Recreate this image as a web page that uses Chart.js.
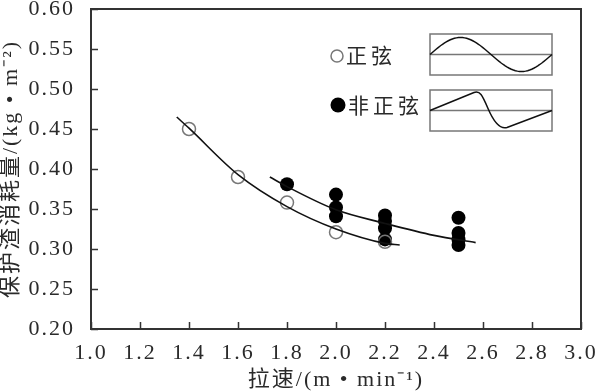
<!DOCTYPE html>
<html>
<head>
<meta charset="utf-8">
<script src="https://cdn.jsdelivr.net/npm/chart.js@4"></script>
<style>
  html, body { margin: 0; padding: 0; background: #fff; }
  #wrap { width: 598px; height: 391px; }
</style>
</head>
<body>
<div id="wrap"><canvas id="slagChart" width="598" height="391"></canvas></div>
<script>
// 正弦振动：实测点
const sineSpeed = [1.4, 1.6, 1.8, 2.0, 2.2];
const sineUse = [0.450, 0.390, 0.358, 0.321, 0.309];

// 非正弦振动：实测点
const nonSineSpeed = [1.8, 2.0, 2.0, 2.0, 2.2, 2.2, 2.2, 2.2, 2.5, 2.5, 2.5, 2.5];
const nonSineUse = [0.381, 0.368, 0.352, 0.341, 0.342, 0.335, 0.326, 0.312, 0.339, 0.320, 0.312, 0.305];

// 拟合曲线
const sineFitSpeed = [1.35, 1.4, 1.6, 1.8, 2.0, 2.2, 2.26];
const sineFitUse = [0.465, 0.451, 0.393, 0.353, 0.325, 0.307, 0.305];
const nonSineFitSpeed = [1.73, 1.8, 2.0, 2.2, 2.4, 2.57];
const nonSineFitUse = [0.390, 0.378, 0.349, 0.332, 0.317, 0.308];

// 坐标轴
const xMin = 1.0, xMax = 3.0, xStep = 0.2;
const yMin = 0.20, yMax = 0.60, yStep = 0.05;
const xTitle = '拉速/(m • min⁻¹)';
const yTitle = '保护渣消耗量/(kg • m⁻²)';

const numFont = "'Liberation Serif', 'Noto Sans CJK SC', serif";
const frameColor = '#333';
const textColor = '#2a2a2a';

function toPoints(xs, ys) {
    return xs.map((x, i) => ({ x: x, y: ys[i] }));
}

// 字间距（原图文字较疏）
const spacingPlugin = {
    id: 'spacing',
    beforeLayout(chart) { chart.ctx.letterSpacing = '2px'; },
    beforeDraw(chart) { chart.ctx.letterSpacing = '2px'; }
};

// 边框和向内的刻度
const framePlugin = {
    id: 'frame',
    afterDraw(chart) {
        const ctx = chart.ctx;
        const a = chart.chartArea;
        const xs = chart.scales.x;
        const ys = chart.scales.y;
        ctx.save();
        ctx.strokeStyle = frameColor;
        ctx.lineWidth = 2;
        ctx.strokeRect(a.left, a.top, a.right - a.left, a.bottom - a.top);
        ctx.lineWidth = 1.5;
        ctx.beginPath();
        xs.ticks.forEach(t => {
            const px = Math.round(xs.getPixelForValue(t.value)) + 0.5;
            ctx.moveTo(px, a.bottom);
            ctx.lineTo(px, a.bottom - 7);
        });
        ys.ticks.forEach(t => {
            const py = Math.round(ys.getPixelForValue(t.value)) + 0.5;
            ctx.moveTo(a.left, py);
            ctx.lineTo(a.left + 7, py);
        });
        ctx.stroke();
        ctx.restore();
    }
};

// 图例（带波形示意）
const legendPlugin = {
    id: 'waveLegend',
    afterDraw(chart) {
        const ctx = chart.ctx;
        const a = chart.chartArea;
        const bx = a.left + 339, bw = 122, bh = 41;
        const b1 = a.top + 25, b2 = a.top + 81;
        ctx.save();

        // 符号和文字
        ctx.lineWidth = 1.5;
        ctx.strokeStyle = '#777';
        ctx.beginPath();
        ctx.arc(a.left + 246, a.top + 47, 6, 0, Math.PI * 2);
        ctx.stroke();
        ctx.fillStyle = '#000';
        ctx.beginPath();
        ctx.arc(a.left + 247, a.top + 96, 7.5, 0, Math.PI * 2);
        ctx.fill();
        ctx.fillStyle = textColor;
        ctx.font = "21px 'Noto Sans CJK SC'";
        ctx.letterSpacing = '4px';
        ctx.textBaseline = 'middle';
        ctx.fillText('正弦', a.left + 255, a.top + 46);
        ctx.fillText('非正弦', a.left + 257, a.top + 96);

        // 方框和中线
        ctx.strokeStyle = '#777';
        ctx.lineWidth = 1.5;
        [b1, b2].forEach(by => {
            ctx.strokeRect(bx, by, bw, bh);
            ctx.beginPath();
            ctx.moveTo(bx, by + bh / 2);
            ctx.lineTo(bx + bw, by + bh / 2);
            ctx.stroke();
        });

        // 正弦波
        ctx.strokeStyle = '#111';
        ctx.lineWidth = 1.5;
        ctx.beginPath();
        for (let i = 0; i <= 60; i++) {
            const px = bx + bw * i / 60;
            const py = b1 + bh / 2 - 17 * Math.sin(2 * Math.PI * i / 60);
            if (i === 0) ctx.moveTo(px, py); else ctx.lineTo(px, py);
        }
        ctx.stroke();

        // 非正弦波
        const m = b2 + bh / 2;
        ctx.beginPath();
        ctx.moveTo(bx, m);
        ctx.lineTo(bx + 44, m - 18);
        ctx.bezierCurveTo(bx + 50, m - 20, bx + 52, m - 16, bx + 58, m - 2);
        ctx.bezierCurveTo(bx + 64, m + 12, bx + 70, m + 19, bx + 77, m + 17);
        ctx.lineTo(bx + bw, m);
        ctx.stroke();
        ctx.restore();
    }
};

new Chart(document.getElementById('slagChart'), {
    type: 'scatter',
    data: {
        datasets: [
            {
                label: '正弦拟合',
                type: 'line',
                data: toPoints(sineFitSpeed, sineFitUse),
                borderColor: '#111',
                borderWidth: 1.6,
                pointRadius: 0,
                cubicInterpolationMode: 'monotone',
                fill: false
            },
            {
                label: '非正弦拟合',
                type: 'line',
                data: toPoints(nonSineFitSpeed, nonSineFitUse),
                borderColor: '#111',
                borderWidth: 1.6,
                pointRadius: 0,
                cubicInterpolationMode: 'monotone',
                fill: false
            },
            {
                label: '正弦',
                data: toPoints(sineSpeed, sineUse),
                pointStyle: 'circle',
                pointRadius: 6.5,
                pointBorderWidth: 1.5,
                pointBorderColor: '#777',
                pointBackgroundColor: 'rgba(255,255,255,0)'
            },
            {
                label: '非正弦',
                data: toPoints(nonSineSpeed, nonSineUse),
                pointStyle: 'circle',
                pointRadius: 7,
                pointBorderWidth: 0,
                pointBackgroundColor: '#000'
            }
        ]
    },
    options: {
        responsive: false,
        animation: false,
        events: [],
        layout: { padding: { left: 0, right: 17, top: 9, bottom: 0 } },
        plugins: {
            legend: { display: false },
            tooltip: { enabled: false }
        },
        scales: {
            x: {
                type: 'linear',
                min: xMin,
                max: xMax,
                grid: { display: false },
                border: { display: false },
                ticks: {
                    stepSize: xStep,
                    padding: 5,
                    color: textColor,
                    font: { family: numFont, size: 22, lineHeight: 1 },
                    callback: v => v.toFixed(1)
                },
                title: {
                    display: true,
                    text: xTitle,
                    color: textColor,
                    font: { family: numFont, size: 22, lineHeight: 1 },
                    padding: { top: 4, bottom: 0 }
                },
                afterFit(scale) {
                    scale.height = 62;
                    scale.paddingLeft = 0;
                    scale.paddingRight = 0;
                }
            },
            y: {
                type: 'linear',
                min: yMin,
                max: yMax,
                grid: { display: false },
                border: { display: false },
                ticks: {
                    stepSize: yStep,
                    padding: 8,
                    color: textColor,
                    font: { family: numFont, size: 22, lineHeight: 1 },
                    callback: v => v.toFixed(2)
                },
                title: {
                    display: true,
                    text: yTitle,
                    color: textColor,
                    font: { family: numFont, size: 22, lineHeight: 1 },
                    padding: { top: 0, bottom: 2 }
                },
                afterFit(scale) {
                    scale.width = 91;
                    scale.paddingTop = 0;
                    scale.paddingBottom = 0;
                }
            }
        }
    },
    plugins: [spacingPlugin, framePlugin, legendPlugin]
});
</script>
</body>
</html>
